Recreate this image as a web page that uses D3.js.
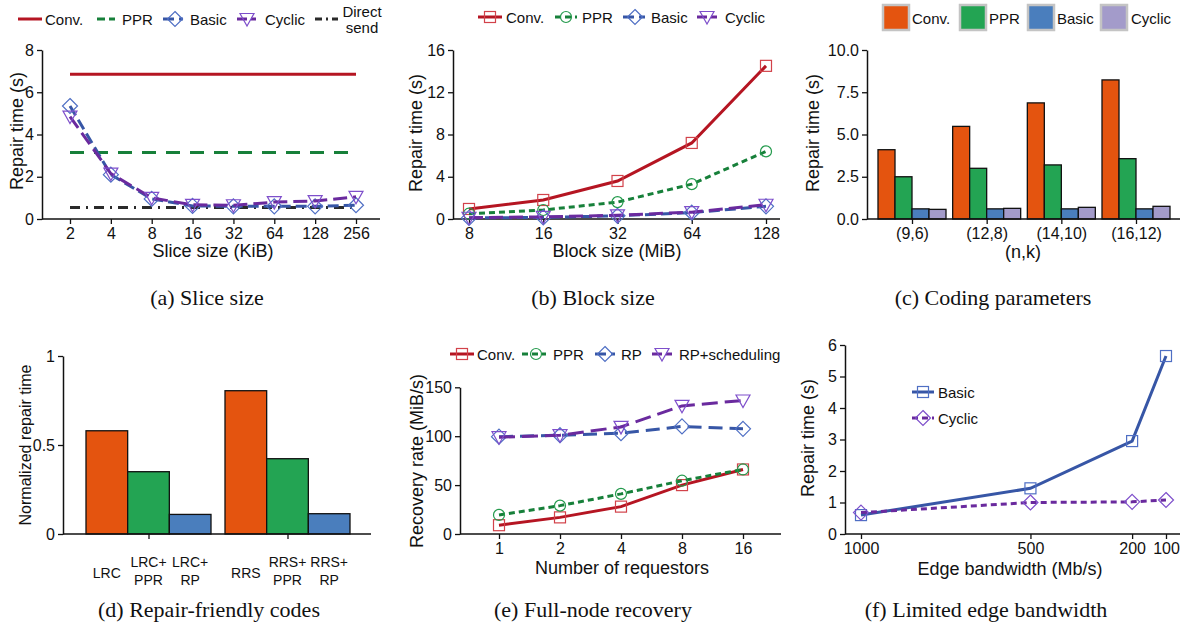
<!DOCTYPE html>
<html>
<head>
<meta charset="utf-8">
<script src="https://cdn.jsdelivr.net/npm/d3@7"></script>
<style>
  body { margin: 0; background: #fff; }
  svg { display: block; }
</style>
</head>
<body>
<div id="chart"></div>
<script>
// (a) slice size
const sliceSizes = ["2", "4", "8", "16", "32", "64", "128", "256"];
const sliceConv = 6.85;
const slicePPR = 3.15;
const sliceDirect = 0.55;
const sliceBasic = [5.35, 2.1, 0.95, 0.62, 0.6, 0.6, 0.6, 0.65];
const sliceCyclic = [4.85, 2.15, 1.0, 0.67, 0.65, 0.8, 0.85, 1.05];

// (b) block size
const blockSizes = ["8", "16", "32", "64", "128"];
const blockConv = [0.95, 1.8, 3.6, 7.2, 14.5];
const blockPPR = [0.5, 0.85, 1.6, 3.3, 6.4];
const blockBasic = [0.1, 0.15, 0.3, 0.6, 1.2];
const blockCyclic = [0.12, 0.2, 0.35, 0.65, 1.35];

// (c) coding parameters
const codingParams = ["(9,6)", "(12,8)", "(14,10)", "(16,12)"];
const codingSeries = ["Conv.", "PPR", "Basic", "Cyclic"];
const codingConv = [4.1, 5.48, 6.87, 8.23];
const codingPPR = [2.5, 3.0, 3.2, 3.57];
const codingBasic = [0.6, 0.6, 0.6, 0.6];
const codingCyclic = [0.57, 0.63, 0.69, 0.75];

// (d) repair-friendly codes
const codeGroups = ["LRC", "RRS"];
const codeLabels = [["LRC"], ["LRC+", "PPR"], ["LRC+", "RP"], ["RRS"], ["RRS+", "PPR"], ["RRS+", "RP"]];
const codeValues = [[0.58, 0.35, 0.11], [0.805, 0.423, 0.114]];

// (e) full-node recovery
const requestors = ["1", "2", "4", "8", "16"];
const recConv = [9, 17, 28, 50, 66];
const recPPR = [19.5, 29, 41, 54.5, 66];
const recRP = [99.5, 101, 103, 110, 107.5];
const recRPS = [99, 101, 109.5, 131, 136.5];

// (f) limited edge bandwidth
const bandwidths = [1000, 500, 200, 100];
const bwBasic = [0.6, 1.45, 2.95, 5.65];
const bwCyclic = [0.68, 1.0, 1.02, 1.08];

const SANS = "'Liberation Sans', Arial, Helvetica, sans-serif";
const SERIF = "'Liberation Serif', 'Times New Roman', serif";

const C = {
  conv: "#b51522", convM: "#d2424a",
  ppr: "#17803a", pprM: "#239a4c",
  basic: "#3756a6", basicM: "#4f6fc4",
  cyclic: "#6a2a9e", cyclicM: "#7e4fcb",
  direct: "#2a2a2a",
  barConv: "#e4540f", barPPR: "#23a453", barBasic: "#4a7ebd", barCyclic: "#a39bca"
};

const svg = d3.select("#chart").append("svg")
  .attr("width", 1186).attr("height", 625)
  .attr("font-family", SANS);

function yAxis(y, x0, ticks, fmt) {
  const g = svg.append("g").attr("transform", `translate(${x0},0)`)
    .call(d3.axisLeft(y).tickValues(ticks).tickFormat(fmt).tickSize(5).tickSizeOuter(0).tickPadding(3));
  styleAxis(g);
  return g;
}

function xAxis(x, yPos, xStart, xEnd, fmt) {
  const ax = d3.axisBottom(x).tickSize(5).tickSizeOuter(0).tickPadding(4);
  if (x.ticks) ax.tickValues(bandwidths);
  if (fmt) ax.tickFormat(fmt);
  const g = svg.append("g").attr("transform", `translate(0,${yPos})`).call(ax);
  g.select(".domain").attr("d", `M${xStart},0H${xEnd}`);
  styleAxis(g);
  return g;
}

function styleAxis(g) {
  g.attr("font-family", SANS).attr("font-size", 16);
  g.select(".domain").attr("stroke", "#111").attr("stroke-width", 1.5);
  g.selectAll(".tick line").attr("stroke", "#111").attr("stroke-width", 1.3);
  g.selectAll(".tick text").attr("fill", "#111");
}

function yTitle(text, x, y, size) {
  svg.append("text").attr("transform", `translate(${x},${y}) rotate(-90)`)
    .attr("text-anchor", "middle").attr("dominant-baseline", "central")
    .attr("font-size", size || 18).attr("fill", "#111").text(text);
}

function xTitle(text, x, y) {
  svg.append("text").attr("x", x).attr("y", y)
    .attr("text-anchor", "middle").attr("dominant-baseline", "central")
    .attr("font-size", 18).attr("fill", "#111").text(text);
}

function caption(text, x, y) {
  svg.append("text").attr("x", x).attr("y", y)
    .attr("text-anchor", "middle").attr("dominant-baseline", "central")
    .attr("font-family", SERIF).attr("font-size", 22).attr("fill", "#111").text(text);
}

function marker(g, type, cx, cy, color) {
  let el;
  if (type === "square") {
    el = g.append("rect").attr("x", cx - 5.5).attr("y", cy - 5.5).attr("width", 11).attr("height", 11);
  } else if (type === "circle") {
    el = g.append("circle").attr("cx", cx).attr("cy", cy).attr("r", 5.5);
  } else if (type === "diamond") {
    el = g.append("path").attr("d", `M${cx},${cy - 7.5}L${cx + 7.5},${cy}L${cx},${cy + 7.5}L${cx - 7.5},${cy}Z`);
  } else {
    el = g.append("path").attr("d", `M${cx - 7},${cy - 5.5}L${cx + 7},${cy - 5.5}L${cx},${cy + 7}Z`);
  }
  el.attr("fill", "none").attr("stroke", color).attr("stroke-width", 1.2);
}

function series(x, y, keys, values, style, mtype, mcolor) {
  const g = svg.append("g");
  const line = d3.line().x((d, i) => x(keys[i])).y(d => y(d));
  g.append("path").datum(values).attr("d", line)
    .attr("fill", "none").attr("stroke", style.color).attr("stroke-width", style.width || 3)
    .attr("stroke-dasharray", style.dash || null);
  if (mtype) values.forEach((v, i) => marker(g, mtype, x(keys[i]), y(v), mcolor));
}

function legendItem(x1, x2, xm, y, style, mtype, mcolor, label, tx) {
  const g = svg.append("g");
  g.append("line").attr("x1", x1).attr("x2", x2).attr("y1", y).attr("y2", y)
    .attr("stroke", style.color).attr("stroke-width", style.width || 3)
    .attr("stroke-dasharray", style.dash || null);
  if (mtype) marker(g, mtype, xm, y, mcolor);
  if (label) g.append("text").attr("x", tx).attr("y", y).attr("dominant-baseline", "central")
    .attr("font-size", 15).attr("fill", "#111").text(label);
}

const sConv = { color: C.conv };
const sPPRa = { color: C.ppr, dash: "14,10" };
const sPPR = { color: C.ppr, dash: "6,4" };
const sBasic = { color: C.basic, dash: "11,5" };
const sCyclic = { color: C.cyclic, dash: "14,6" };
const sDirect = { color: C.direct, dash: "10,6,2,6" };
const sBasicSolid = { color: C.basic };

// ---------- (a) ----------
{
  const x = d3.scalePoint().domain(sliceSizes).range([70, 356]);
  const y = d3.scaleLinear().domain([0, 8]).range([219, 50]);
  yAxis(y, 42, [0, 2, 4, 6, 8], d3.format("d"));
  xAxis(x, 219, 42, 380);
  yTitle("Repair time (s)", 17, 131);
  xTitle("Slice size (KiB)", 213, 251);
  series(x, y, sliceSizes, sliceSizes.map(() => sliceConv), sConv);
  series(x, y, sliceSizes, sliceSizes.map(() => slicePPR), sPPRa);
  series(x, y, sliceSizes, sliceSizes.map(() => sliceDirect), sDirect);
  series(x, y, sliceSizes, sliceBasic, sBasic, "diamond", C.basicM);
  series(x, y, sliceSizes, sliceCyclic, sCyclic, "triangle", C.cyclicM);

  legendItem(18, 42, 0, 19, sConv, null, null, "Conv.", 45);
  legendItem(97, 115, 0, 19, { color: C.ppr, dash: "8,4" }, null, null, "PPR", 122);
  legendItem(163, 183, 175, 19, sBasic, "diamond", C.basicM, "Basic", 190);
  legendItem(237, 256, 247, 19, { color: C.cyclic, dash: "10,4" }, "triangle", C.cyclicM, "Cyclic", 265);
  legendItem(315, 338, 0, 19, { color: C.direct, dash: "7,4,2,4" }, null, null, null, 0);
  svg.append("text").attr("x", 362).attr("y", 11).attr("text-anchor", "middle")
    .attr("dominant-baseline", "central").attr("font-size", 15).attr("fill", "#111").text("Direct");
  svg.append("text").attr("x", 362).attr("y", 27).attr("text-anchor", "middle")
    .attr("dominant-baseline", "central").attr("font-size", 15).attr("fill", "#111").text("send");
  caption("(a) Slice size", 207, 297);
}

// ---------- (b) ----------
{
  const x = d3.scalePoint().domain(blockSizes).range([469, 766]);
  const y = d3.scaleLinear().domain([0, 16]).range([219, 50]);
  yAxis(y, 453, [0, 4, 8, 12, 16], d3.format("d"));
  xAxis(x, 219, 453, 780);
  yTitle("Repair time (s)", 416, 133);
  xTitle("Block size (MiB)", 617, 251);
  series(x, y, blockSizes, blockConv, sConv, "square", C.convM);
  series(x, y, blockSizes, blockPPR, sPPR, "circle", C.pprM);
  series(x, y, blockSizes, blockBasic, sBasic, "diamond", C.basicM);
  series(x, y, blockSizes, blockCyclic, sCyclic, "triangle", C.cyclicM);

  legendItem(478, 502, 490, 17, sConv, "square", C.convM, "Conv.", 506);
  legendItem(555, 577, 566, 17, sPPR, "circle", C.pprM, "PPR", 582);
  legendItem(623, 645, 635, 17, sBasic, "diamond", C.basicM, "Basic", 651);
  legendItem(697, 717, 707, 17, { color: C.cyclic, dash: "10,4" }, "triangle", C.cyclicM, "Cyclic", 725);
  caption("(b) Block size", 593, 297);
}

// ---------- (c) ----------
{
  const x0 = d3.scalePoint().domain(codingParams).range([912, 1136]);
  const x1 = d3.scaleBand().domain(codingSeries).range([-34, 34]);
  const y = d3.scaleLinear().domain([0, 10]).range([219, 50]);
  const colors = [C.barConv, C.barPPR, C.barBasic, C.barCyclic];
  const vals = [codingConv, codingPPR, codingBasic, codingCyclic];
  const g = svg.append("g");
  codingParams.forEach((p, i) => {
    codingSeries.forEach((s, j) => {
      g.append("rect")
        .attr("x", x0(p) + x1(s)).attr("width", x1.bandwidth())
        .attr("y", y(vals[j][i])).attr("height", y(0) - y(vals[j][i]))
        .attr("fill", colors[j]).attr("stroke", "#111").attr("stroke-width", 1.3);
    });
  });
  yAxis(y, 867, [0, 2.5, 5, 7.5, 10], d3.format(".1f"));
  xAxis(x0, 219, 867, 1180);
  yTitle("Repair time (s)", 813, 133);
  xTitle("(n,k)", 1023, 252);

  const lx = [883, 960, 1028, 1101];
  const tx = [912, 989, 1057, 1131];
  codingSeries.forEach((s, j) => {
    svg.append("rect").attr("x", lx[j]).attr("y", 5).attr("width", 26).attr("height", 25)
      .attr("fill", colors[j]).attr("stroke", "#c4c4c4").attr("stroke-width", 2.5);
    svg.append("text").attr("x", tx[j]).attr("y", 18).attr("dominant-baseline", "central")
      .attr("font-size", 15).attr("fill", "#111").text(s);
  });
  caption("(c) Coding parameters", 993, 297);
}

// ---------- (d) ----------
{
  const x0 = d3.scalePoint().domain(codeGroups).range([148.5, 287.5]);
  const x1 = d3.scaleBand().domain([0, 1, 2]).range([-62.5, 62.5]);
  const y = d3.scaleLinear().domain([0, 1]).range([534, 356]);
  const colors = [C.barConv, C.barPPR, C.barBasic];
  const g = svg.append("g");
  codeGroups.forEach((grp, i) => {
    codeValues[i].forEach((v, j) => {
      const bx = x0(grp) + x1(j);
      g.append("rect").attr("x", bx).attr("width", x1.bandwidth())
        .attr("y", y(v)).attr("height", y(0) - y(v))
        .attr("fill", colors[j]).attr("stroke", "#111").attr("stroke-width", 1.3);
      const lines = codeLabels[i * 3 + j];
      const cx = bx + x1.bandwidth() / 2;
      lines.forEach((t, k) => {
        const ly = lines.length === 1 ? 573 : 562 + k * 18;
        svg.append("text").attr("x", cx).attr("y", ly).attr("text-anchor", "middle")
          .attr("dominant-baseline", "central").attr("font-size", 14).attr("fill", "#111").text(t);
      });
    });
  });
  yAxis(y, 63, [0, 0.5, 1], d => d === 0.5 ? "0.5" : d3.format("d")(d));
  const ax = xAxis(x0, 534, 63, 371);
  ax.selectAll(".tick text").remove();
  yTitle("Normalized repair time", 25, 445, 16);
  caption("(d) Repair-friendly codes", 209, 609);
}

// ---------- (e) ----------
{
  const x = d3.scalePoint().domain(requestors).range([499, 743]);
  const y = d3.scaleLinear().domain([0, 150]).range([534, 387.3]);
  yAxis(y, 460, [0, 50, 100, 150], d3.format("d"));
  xAxis(x, 534, 460, 781);
  yTitle("Recovery rate (MiB/s)", 417, 461);
  xTitle("Number of requestors", 622, 568);
  series(x, y, requestors, recConv, sConv, "square", C.convM);
  series(x, y, requestors, recPPR, sPPR, "circle", C.pprM);
  series(x, y, requestors, recRP, { color: C.basic, dash: "14,7" }, "diamond", C.basicM);
  series(x, y, requestors, recRPS, { color: C.cyclic, dash: "16,7" }, "triangle", C.cyclicM);

  legendItem(450, 474, 462, 354, sConv, "square", C.convM, "Conv.", 477);
  legendItem(522, 546, 536, 354, sPPR, "circle", C.pprM, "PPR", 553);
  legendItem(595, 615, 605, 354, sBasic, "diamond", C.basicM, "RP", 621);
  legendItem(652, 672, 662, 354, { color: C.cyclic, dash: "10,4" }, "triangle", C.cyclicM, "RP+scheduling", 679);
  caption("(e) Full-node recovery", 593, 609);
}

// ---------- (f) ----------
{
  const x = d3.scaleLinear().domain([1000, 100]).range([861, 1166]);
  const y = d3.scaleLinear().domain([0, 6]).range([534, 345]);
  yAxis(y, 845, [0, 1, 2, 3, 4, 5, 6], d3.format("d"));
  xAxis(x, 534, 845, 1180, d3.format("d"));
  yTitle("Repair time (s)", 808, 438);
  xTitle("Edge bandwidth (Mb/s)", 1010, 569);
  series(x, y, bandwidths, bwBasic, sBasicSolid, "square", C.basicM);
  series(x, y, bandwidths, bwCyclic, { color: C.cyclic, dash: "6,4" }, "diamond", C.cyclicM);

  legendItem(912, 934, 923, 392, sBasicSolid, "square", C.basicM, "Basic", 938);
  legendItem(912, 934, 923, 418, { color: C.cyclic, dash: "6,4" }, "diamond", C.cyclicM, "Cyclic", 938);
  caption("(f) Limited edge bandwidth", 986, 609);
}
</script>
</body>
</html>
